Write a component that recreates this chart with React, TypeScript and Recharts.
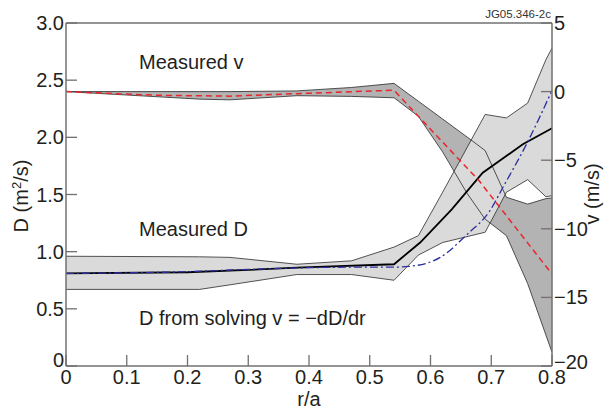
import React from 'react'
import { ComposedChart, Area, Line, XAxis, YAxis, ReferenceLine } from 'recharts'

// tick labels
const rTicks = [0, 0.1, 0.2, 0.3, 0.4, 0.5, 0.6, 0.7, 0.8]
const dTicks = [0, 0.5, 1.0, 1.5, 2.0, 2.5, 3.0]
const vTicks = [-20, -15, -10, -5, 0, 5]

// measured v error band (right axis, m/s)
const vBandR = [0, 0.1, 0.22, 0.27, 0.38, 0.47, 0.54, 0.58, 0.62, 0.66, 0.69, 0.725, 0.76, 0.79, 0.8]
const vUpper = [0, 0, 0, 0, 0.05, 0.3, 0.6, -0.7, -2.0, -3.3, -4.3, -7.7, -8.2, -7.8, -7.75]
const vLower = [0, -0.25, -0.55, -0.6, -0.3, -0.35, -0.45, -1.8, -4.4, -7.4, -9.3, -10.5, -14, -17.75, -19]

// measured v (red dashed)
const vMeasR = [0, 0.15, 0.27, 0.38, 0.54, 0.58, 0.68, 0.8]
const vMeas = [0, -0.27, -0.33, -0.15, 0.1, -1.8, -6.5, -13.3]

// measured D error band (left axis, m2/s)
const dBandR = [0, 0.22, 0.27, 0.38, 0.47, 0.54, 0.58, 0.62, 0.69, 0.725, 0.76, 0.79, 0.8]
const dLower = [0.67, 0.67, 0.71, 0.8, 0.8, 0.75, 0.97, 1.08, 1.17, 1.52, 1.63, 1.48, 1.49]
const dUpper = [0.96, 0.955, 0.95, 0.89, 0.92, 1.04, 1.14, 1.52, 2.2, 2.17, 2.3, 2.68, 2.78]

// measured D (black)
const dMeasR = [0, 0.2, 0.3, 0.38, 0.54, 0.583, 0.635, 0.686, 0.752, 0.8]
const dMeas = [0.81, 0.82, 0.84, 0.86, 0.89, 1.08, 1.37, 1.69, 1.94, 2.08]

// D from solving v = -dD/dr (blue dash-dot)
const dSolvR = [0, 0.1, 0.2, 0.3, 0.4, 0.5, 0.54, 0.571, 0.616, 0.66, 0.698, 0.72, 0.759, 0.8]
const dSolv = [0.81, 0.815, 0.825, 0.845, 0.86, 0.865, 0.865, 0.875, 0.95, 1.15, 1.36, 1.57, 1.95, 2.41]

const vBand = vBandR.map((r, i) => ({ r, lo: vLower[i], hi: vUpper[i] }))
const dBand = dBandR.map((r, i) => ({ r, lo: dLower[i], hi: dUpper[i] }))
const vMeasData = vMeasR.map((r, i) => ({ r, v: vMeas[i] }))
const dMeasData = dMeasR.map((r, i) => ({ r, d: dMeas[i] }))
const dSolvData = dSolvR.map((r, i) => ({ r, d: dSolv[i] }))

const FONT = '"Liberation Sans", Arial, Helvetica, sans-serif'
const TEXT = '#231f20'
const AXIS = '#707070'

const fmt = (v: number) => (v === 0 ? '0' : v.toFixed(1))
const fmtV = (v: number) => (v < 0 ? `\u2212${-v}` : `${v}`)

const LeftTick = ({ x, y, payload }: any) => (
  <g>
    <line x1={x} x2={x + 11} y1={y} y2={y} stroke={AXIS} strokeWidth={1.3} />
    <text x={x - 2} y={y} dy={payload.value === 0 ? 1 : 7} textAnchor="end" fontSize={20} fontFamily={FONT} fill={TEXT}>
      {fmt(payload.value)}
    </text>
  </g>
)

const RightTick = ({ x, y, payload }: any) => (
  <g>
    <line x1={x} x2={x - 11} y1={y} y2={y} stroke={AXIS} strokeWidth={1.3} />
    <text x={x + 2} y={y} dy={payload.value === -20 ? 3 : 7} textAnchor="start" fontSize={20} fontFamily={FONT} fill={TEXT}>
      {fmtV(payload.value)}
    </text>
  </g>
)

const BottomTick = ({ x, y, payload }: any) => (
  <g>
    <line x1={x} x2={x} y1={y} y2={y - 11} stroke={AXIS} strokeWidth={1.3} />
    <text x={x} y={y} dy={18} textAnchor="middle" fontSize={20} fontFamily={FONT} fill={TEXT}>
      {fmt(payload.value)}
    </text>
  </g>
)

export default function App() {
  return (
    <div style={{ position: 'absolute', left: 0, top: 0, width: 610, height: 412, background: '#fff' }}>
      <ComposedChart width={610} height={412} margin={{ top: 23, right: 8, bottom: 16, left: 6 }}>
        <XAxis
          type="number"
          dataKey="r"
          domain={[0, 0.8]}
          ticks={rTicks}
          interval={0}
          height={30}
          tickSize={0}
          tickMargin={0}
          tick={<BottomTick />}
          axisLine={{ stroke: AXIS, strokeWidth: 1.5 }}
        />
        <YAxis
          yAxisId="D"
          orientation="left"
          domain={[0, 3]}
          ticks={dTicks}
          interval={0}
          width={60}
          tickSize={0}
          tickMargin={0}
          tick={<LeftTick />}
          axisLine={{ stroke: AXIS, strokeWidth: 1.5 }}
        />
        <YAxis
          yAxisId="v"
          orientation="right"
          domain={[-20, 5]}
          ticks={vTicks}
          interval={0}
          width={50}
          tickSize={0}
          tickMargin={0}
          tick={<RightTick />}
          axisLine={{ stroke: AXIS, strokeWidth: 1.5 }}
        />
        <ReferenceLine yAxisId="D" y={3} stroke={AXIS} strokeWidth={1.5} />

        <Area yAxisId="v" data={vBand} dataKey={(d: any) => [d.lo, d.hi]} type="linear" fill="#b3b3b3" fillOpacity={1} stroke="none" isAnimationActive={false} />
        <Area yAxisId="D" data={dBand} dataKey={(d: any) => [d.lo, d.hi]} type="linear" fill="#dadada" fillOpacity={1} stroke="none" isAnimationActive={false} />

        <Line yAxisId="v" data={vBand} dataKey="hi" type="linear" stroke="#2a2a2a" strokeWidth={0.8} dot={false} isAnimationActive={false} />
        <Line yAxisId="v" data={vBand} dataKey="lo" type="linear" stroke="#2a2a2a" strokeWidth={0.8} dot={false} isAnimationActive={false} />
        <Line yAxisId="D" data={dBand} dataKey="hi" type="linear" stroke="#2a2a2a" strokeWidth={0.8} dot={false} isAnimationActive={false} />
        <Line yAxisId="D" data={dBand} dataKey="lo" type="linear" stroke="#2a2a2a" strokeWidth={0.8} dot={false} isAnimationActive={false} />

        <Line yAxisId="D" data={dMeasData} dataKey="d" type="linear" stroke="#000" strokeWidth={1.8} dot={false} isAnimationActive={false} />
        <Line yAxisId="D" data={dSolvData} dataKey="d" type="monotone" stroke="#2b2f9e" strokeWidth={1.3} strokeDasharray="8 3 2 3" dot={false} isAnimationActive={false} />
        <Line yAxisId="v" data={vMeasData} dataKey="v" type="linear" stroke="#e8262b" strokeWidth={1.5} strokeDasharray="6 4" dot={false} isAnimationActive={false} />
      </ComposedChart>

      <svg width={610} height={412} style={{ position: 'absolute', left: 0, top: 0, pointerEvents: 'none' }} fontFamily={FONT} fill={TEXT}>
        <text x={551} y={18} textAnchor="end" fontSize={11.5} fill="#333">JG05.346-2c</text>
        <text x={139} y={69} fontSize={20}>Measured v</text>
        <text x={139} y={236} fontSize={20}>Measured D</text>
        <text x={139} y={325} fontSize={20}>D from solving v = {'\u2212'}dD/dr</text>
        <text x={309} y={406} textAnchor="middle" fontSize={20}>r/a</text>
        <text transform="translate(28,196) rotate(-90)" textAnchor="middle" fontSize={20}>
          D (m<tspan dy={-7} fontSize={13}>2</tspan><tspan dy={7}>/s)</tspan>
        </text>
        <text transform="translate(599,194) rotate(-90)" textAnchor="middle" fontSize={20}>v (m/s)</text>
      </svg>
    </div>
  )
}
